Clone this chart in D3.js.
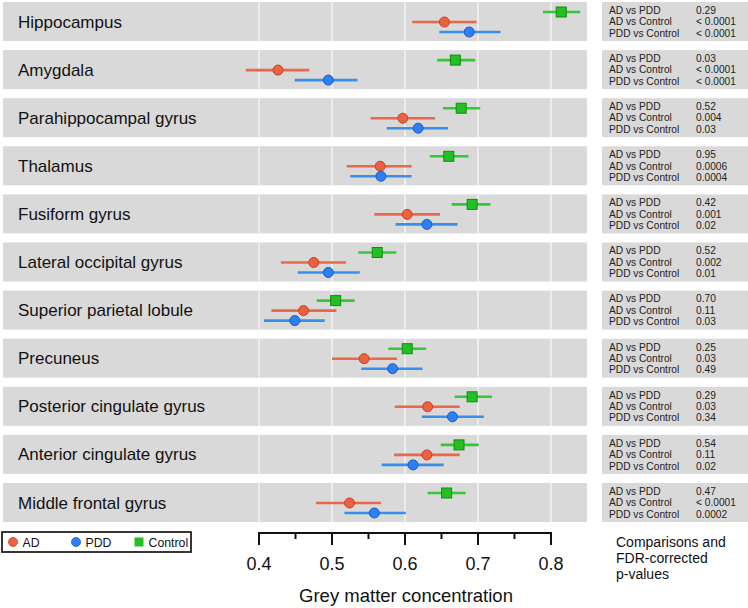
<!DOCTYPE html>
<html><head><meta charset="utf-8">
<script src="https://cdn.jsdelivr.net/npm/d3@7"></script>
<style>body{margin:0;background:#fff}svg{display:block}text{font-family:"Liberation Sans",Arial,Helvetica,sans-serif}</style>
</head><body>
<svg id="c" width="748" height="608"></svg>
<script>
const regions = ["Hippocampus","Amygdala","Parahippocampal gyrus","Thalamus","Fusiform gyrus","Lateral occipital gyrus","Superior parietal lobule","Precuneus","Posterior cingulate gyrus","Anterior cingulate gyrus","Middle frontal gyrus"];
const groups = ["AD","PDD","Control"];
// mean, lower, upper per region
const adMean  = [0.654,0.426,0.597,0.566,0.603,0.475,0.461,0.544,0.631,0.630,0.524];
const adLow   = [0.610,0.382,0.553,0.520,0.558,0.430,0.417,0.500,0.586,0.585,0.478];
const adHigh  = [0.698,0.469,0.641,0.609,0.648,0.519,0.506,0.589,0.675,0.675,0.567];
const pddMean = [0.688,0.495,0.618,0.567,0.630,0.495,0.449,0.583,0.665,0.611,0.558];
const pddLow  = [0.647,0.449,0.575,0.525,0.587,0.453,0.407,0.540,0.623,0.568,0.517];
const pddHigh = [0.731,0.535,0.659,0.609,0.672,0.538,0.490,0.624,0.708,0.653,0.601];
const ctlMean = [0.814,0.669,0.677,0.660,0.692,0.562,0.505,0.603,0.692,0.674,0.657];
const ctlLow  = [0.789,0.644,0.652,0.634,0.664,0.536,0.479,0.577,0.668,0.649,0.631];
const ctlHigh = [0.840,0.696,0.703,0.687,0.717,0.588,0.531,0.629,0.719,0.701,0.683];
const comparisons = ["AD vs PDD","AD vs Control","PDD vs Control"];
const pAdPdd  = ["0.29","0.03","0.52","0.95","0.42","0.52","0.70","0.25","0.29","0.54","0.47"];
const pAdCtl  = ["< 0.0001","< 0.0001","0.004","0.0006","0.001","0.002","0.11","0.03","0.03","0.11","< 0.0001"];
const pPddCtl = ["< 0.0001","< 0.0001","0.03","0.0004","0.02","0.01","0.03","0.49","0.34","0.02","0.0002"];
const majorTicks = [0.4,0.5,0.6,0.7,0.8];
const minorTicks = [0.45,0.55,0.65,0.75];

const series = [
  {name:"AD", mean:adMean, lo:adLow, hi:adHigh, fill:"#EC6142", stroke:"#BF4529", line:"#EC6747", shape:"circle", off:20},
  {name:"PDD", mean:pddMean, lo:pddLow, hi:pddHigh, fill:"#2C7FF4", stroke:"#1C5BC2", line:"#3A8FEA", shape:"circle", off:30},
  {name:"Control", mean:ctlMean, lo:ctlLow, hi:ctlHigh, fill:"#22C022", stroke:"#138A13", line:"#33C933", shape:"square", off:10}
];

const svg = d3.select("#c");
const x = d3.scaleLinear().domain([0.4,0.8]).range([259,551]);
const panelL = 3, panelR = 587, rpL = 602, rpR = 748;
const rowStep = 48.1, rowH = 39, top0 = 2;
const y = d3.scaleBand().domain(regions).range([top0, top0 + rowStep*regions.length]).paddingInner(0).paddingOuter(0);

const rows = svg.append("g").selectAll("g").data(regions).join("g")
  .attr("transform", d => `translate(0,${y(d)})`);
rows.append("rect").attr("x",panelL).attr("width",panelR-panelL).attr("height",rowH).attr("fill","#D9D9D9");
rows.each(function(){
  const g = d3.select(this);
  majorTicks.forEach(t => g.append("line").attr("x1",x(t)).attr("x2",x(t)).attr("y1",0).attr("y2",rowH)
    .attr("stroke","#F2F2F2").attr("stroke-width",1.6));
});
rows.append("text").attr("x",18).attr("y",rowH/2+6).attr("font-size",17).attr("fill","#111").text(d=>d);

// right panels
rows.append("rect").attr("x",rpL).attr("width",rpR-rpL).attr("height",rowH).attr("fill","#D9D9D9");
const lineY = [11.9, 23.3, 34.7];
rows.each(function(d,i){
  const g = d3.select(this);
  const vals = [pAdPdd[i], pAdCtl[i], pPddCtl[i]];
  comparisons.forEach((c,j)=>{
    g.append("text").attr("x",609).attr("y",lineY[j]).attr("font-size",10.2).attr("fill","#222").text(c);
    g.append("text").attr("x",696).attr("y",lineY[j]).attr("font-size",10.2).attr("fill","#222").text(vals[j]);
  });
});

// marks
series.forEach(s=>{
  const g = svg.append("g");
  regions.forEach((r,i)=>{
    const yy = y(r)+s.off;
    g.append("line").attr("x1",x(s.lo[i])).attr("x2",x(s.hi[i])).attr("y1",yy).attr("y2",yy)
      .attr("stroke",s.line).attr("stroke-width",2.6);
    if (s.shape==="circle") {
      g.append("circle").attr("cx",x(s.mean[i])).attr("cy",yy).attr("r",5).attr("fill",s.fill).attr("stroke",s.stroke).attr("stroke-width",1);
    } else {
      g.append("rect").attr("x",x(s.mean[i])-5).attr("y",yy-5).attr("width",10).attr("height",10).attr("fill",s.fill).attr("stroke",s.stroke).attr("stroke-width",1);
    }
  });
});

// axis
const axisY = 533;
const ax = svg.append("g");
ax.append("line").attr("x1",x(0.4)).attr("x2",x(0.8)).attr("y1",axisY).attr("y2",axisY).attr("stroke","#111").attr("stroke-width",2);
majorTicks.forEach(t=>{
  ax.append("line").attr("x1",x(t)).attr("x2",x(t)).attr("y1",axisY-1).attr("y2",axisY+12).attr("stroke","#111").attr("stroke-width",2);
  ax.append("text").attr("x",x(t)).attr("y",570).attr("text-anchor","middle").attr("font-size",18).attr("fill","#111").text(d3.format(".1f")(t));
});
minorTicks.forEach(t=>{
  ax.append("line").attr("x1",x(t)).attr("x2",x(t)).attr("y1",axisY-1).attr("y2",axisY+6).attr("stroke","#111").attr("stroke-width",2);
});
svg.append("text").attr("x",x(0.6)+1).attr("y",602).attr("text-anchor","middle").attr("font-size",18.5).attr("fill","#111").text("Grey matter concentration");

// right footnote
["Comparisons and","FDR-corrected","p-values"].forEach((t,i)=>{
  svg.append("text").attr("x",616).attr("y",547+i*16).attr("font-size",14).attr("fill","#111").text(t);
});

// legend
const lg = svg.append("g");
lg.append("rect").attr("x",2).attr("y",532).attr("width",189).attr("height",20).attr("fill","#fff").attr("stroke","#222").attr("stroke-width",1.8);
const legX = [13,76,139];
series.forEach(s=>{
  const idx = groups.indexOf(s.name);
  const cx = legX[idx];
  if (s.shape==="circle") lg.append("circle").attr("cx",cx).attr("cy",542).attr("r",4.5).attr("fill",s.fill).attr("stroke",s.stroke).attr("stroke-width",0.8);
  else lg.append("rect").attr("x",cx-4.5).attr("y",537.5).attr("width",9).attr("height",9).attr("fill",s.fill);
  lg.append("text").attr("x",cx+9.5).attr("y",546.5).attr("font-size",12.3).attr("fill","#111").text(s.name);
});
</script>
</body></html>
